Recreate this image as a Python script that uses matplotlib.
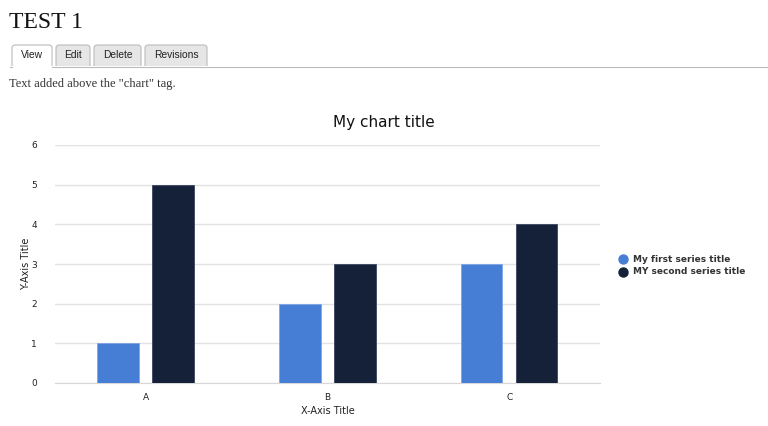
import matplotlib.pyplot as plt
from matplotlib.patches import FancyBboxPatch
import numpy as np

categories = ["A", "B", "C"]
first_series = [1, 2, 3]
second_series = [5, 3, 4]
series_names = ["My first series title", "MY second series title"]
tabs = ["View", "Edit", "Delete", "Revisions"]

W, H = 768, 426
fig = plt.figure(figsize=(W / 100, H / 100), dpi=100)

# page elements drawn in pixel coordinates
page = fig.add_axes([0, 0, 1, 1])
page.set_xlim(0, W)
page.set_ylim(H, 0)
page.axis("off")

page.text(9, 22, "TEST 1", fontsize=17, family="Liberation Serif",
          va="center", ha="left", color="#111111")

tab_pos = [(12, 52), (56, 90), (94, 141), (145, 207)]
for i, (name, (x0, x1)) in enumerate(zip(tabs, tab_pos)):
    face = "white" if i == 0 else "#e6e6e6"
    box = FancyBboxPatch((x0, 45), x1 - x0, 26, boxstyle="round,pad=0,rounding_size=3",
                         fc=face, ec="#bbbbbb", lw=0.8, mutation_aspect=1)
    page.add_patch(box)
    page.text((x0 + x1) / 2, 55.5, name, fontsize=7.4, family="Liberation Sans",
              ha="center", va="center", color="#222222")
page.add_patch(plt.Rectangle((0, 66), W, 10, fc="white", ec="none", zorder=3))
page.plot([10, 12], [66.5, 66.5], color="#bbbbbb", lw=0.8, zorder=4)
page.plot([52, W], [66.5, 66.5], color="#bbbbbb", lw=0.8, zorder=4)

page.text(9, 84, 'Text added above the "chart" tag.', fontsize=9,
          family="Liberation Serif", va="center", ha="left", color="#333333")

page.text(384, 122, "My chart title", fontsize=11, family="DejaVu Sans",
          ha="center", va="center", color="#111111")

# legend
colors = ["#467ed6", "#142139"]
for j, (name, c) in enumerate(zip(series_names, colors)):
    y = 259 + 13 * j
    page.scatter([623], [y], s=42, color=c, zorder=5)
    page.text(633, y, name, fontsize=6.5, fontweight="bold", family="DejaVu Sans",
              va="center", ha="left", color="#333333")

# chart
ax = fig.add_axes([55 / W, (H - 383) / H, 545 / W, (383 - 145) / H])
ax.set_facecolor("none")
x = np.arange(len(categories))
width = 0.23
ax.bar(x - 0.152, first_series, width, color=colors[0], edgecolor="#7ea4e4",
       linewidth=0.6, zorder=3)
ax.bar(x + 0.150, second_series, width, color=colors[1], edgecolor="#3a4660",
       linewidth=0.6, zorder=3)

ax.set_xlim(-0.5, 2.5)
ax.set_ylim(0, 6)
ax.set_yticks(range(0, 7))
ax.set_xticks(x)
ax.set_xticklabels(categories)
ax.grid(axis="y", color="#e2e2e2", lw=1, zorder=0)
for s in ["top", "right", "left"]:
    ax.spines[s].set_visible(False)
ax.spines["bottom"].set_color("#d8d8d8")
ax.tick_params(length=0, labelsize=6.5, colors="#222222")
ax.tick_params(axis="y", pad=13)
ax.tick_params(axis="x", pad=7)
ax.set_xlabel("X-Axis Title", fontsize=7, color="#222222", labelpad=3)
ax.set_ylabel("Y-Axis Title", fontsize=7, color="#222222", labelpad=0)

fig.savefig("out.png", dpi=100)
